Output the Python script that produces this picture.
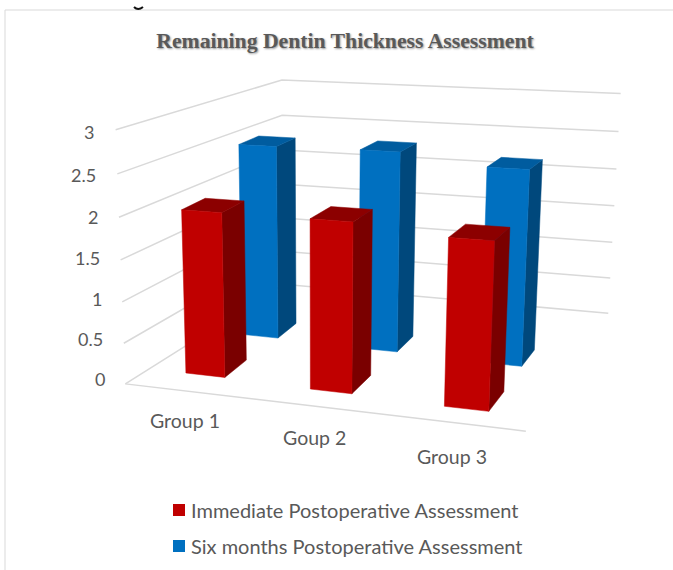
import numpy as np, plotly.graph_objects as go

W, H = 673, 570

# ---- chart values ----
categories = ['Group 1', 'Goup 2', 'Group 3']
immediate = [2.00, 2.02, 1.94]
six_months = [2.50, 2.53, 2.42]
ticks = [0, 0.5, 1, 1.5, 2, 2.5, 3]
names = ['Immediate Postoperative Assessment', 'Six months Postoperative Assessment']

# ---- oblique projection, calibrated on the frame of the 3-D box ----
world = np.array([[0,0,0],[3,0,0],[3,1,0],[0,1,0],[0,0,3],[3,1,3],[0,1,3]], float)
screen = np.array([[125,378],[527,435],[608,309],[283,290],[115,132],[620,95],[283,77]], float)
A = []
for (X, Y, Z), (u, v) in zip(world, screen):
    A.append([X, Y, Z, 1, 0, 0, 0, 0, -u*X, -u*Y, -u*Z, -u])
    A.append([0, 0, 0, 0, X, Y, Z, 1, -v*X, -v*Y, -v*Z, -v])
M = np.linalg.svd(np.array(A))[2][-1].reshape(3, 4)

def pj(X, Y, Z):
    h = M @ np.array([X, Y, Z, 1.0])
    return h[0]/h[2], h[1]/h[2]

fig = go.Figure()

def poly(faces):
    xs, ys = [], []
    for f in faces:
        for p in f + [f[0]]:
            a, b = pj(*p)
            xs.append(a); ys.append(b)
        xs.append(None); ys.append(None)
    return xs, ys

grid_x, grid_y = [], []
for t in ticks:
    for p in [(0,0,t),(0,1,t),(3,1,t)]:
        a, b = pj(*p); grid_x.append(a); grid_y.append(b)
    grid_x.append(None); grid_y.append(None)
for p in [(0,0,0),(3,0,0)]:
    a, b = pj(*p); grid_x.append(a); grid_y.append(b)
fig.add_trace(go.Scatter(x=grid_x, y=grid_y, mode='lines', line=dict(color='#D9D9D9', width=1.5), hoverinfo='skip'))

bw = 0.32
depth = 0.145
skew = [-0.02, -0.01, -0.004]
drift = [0, -0.013, -0.026]

def bars(vals, centers, y_front, cols):
    fr, si, to = [], [], []
    for i, z in enumerate(vals):
        a, b = centers[i]-bw/2, centers[i]+bw/2
        y0 = y_front+drift[i]; y1 = y0+depth; s = skew[i]
        fr.append([(a,y0,0),(b,y0,0),(b,y0,z),(a,y0,z)])
        si.append([(b,y0,0),(b+s,y1,0),(b+s,y1,z),(b,y0,z)])
        to.append([(a,y0,z),(b,y0,z),(b+s,y1,z),(a+s,y1,z)])
    for faces, c in zip((si, to, fr), (cols[1], cols[2], cols[0])):
        x, y = poly(faces)
        fig.add_trace(go.Scatter(x=x, y=y, mode='lines', fill='toself', fillcolor=c,
                                 line=dict(color=c, width=0.5), hoverinfo='skip'))

bars(six_months, [0.452, 1.479, 2.486], 0.474, ('#0070C0', '#00487C', '#005C9F'))
bars(immediate, [0.4675, 1.4855, 2.5075], 0.124, ('#C00000', '#7A0000', '#8C0000'))

GRAY = '#595959'
for t in ticks:
    a, b = pj(0, 0, t)
    fig.add_annotation(x=a-20+2*(3-t)/3, y=b-5+7*t/3, text=f'{t:g}', showarrow=False, xanchor='right', yanchor='middle',
                       font=dict(size=18, family='Lato', color=GRAY))
for i, c in enumerate(categories):
    a, b = pj(i+.5, 0, 0)
    fig.add_annotation(x=a-1.5, y=b+29+2.5*i, text=c, showarrow=False, xanchor='center', yanchor='middle',
                       font=dict(size=19.5, family='Lato', color=GRAY))
for n, c, y in zip(names, ['#C00000', '#0070C0'], [510, 546]):
    fig.add_trace(go.Scatter(x=[179], y=[y], mode='markers', marker=dict(symbol='square', size=12, color=c), hoverinfo='skip'))
    fig.add_annotation(x=188.5, y=y, text=n, showarrow=False, xanchor='left', yanchor='middle',
                       font=dict(size=20, family='Lato', color=GRAY))

fig.update_layout(
    width=W, height=H, margin=dict(l=0, r=0, t=0, b=0), showlegend=False,
    plot_bgcolor='white', paper_bgcolor='white',
    xaxis=dict(visible=False, range=[0, W], fixedrange=True),
    yaxis=dict(visible=False, range=[H, 0], fixedrange=True),
    title=dict(text='<b>Remaining Dentin Thickness Assessment</b>', x=345/W, xanchor='center', y=1-40/H, yanchor='middle',
               font=dict(family='Liberation Serif', size=21.7, color=GRAY, shadow='1px 1px 2px #999')),
    shapes=[dict(type='line', x0=5, x1=W, y0=10, y1=10, line=dict(color='#D9D9D9', width=1)),
            dict(type='line', x0=5, x1=5, y0=10, y1=H, line=dict(color='#D9D9D9', width=1)),
            dict(type='path', path='M134,7 Q138,11 143,7', line=dict(color='#111111', width=2))])
fig.write_html('out.html', config=dict(displayModeBar=False),
               post_script="document.body.style.margin='0';document.body.style.overflow='hidden';")
